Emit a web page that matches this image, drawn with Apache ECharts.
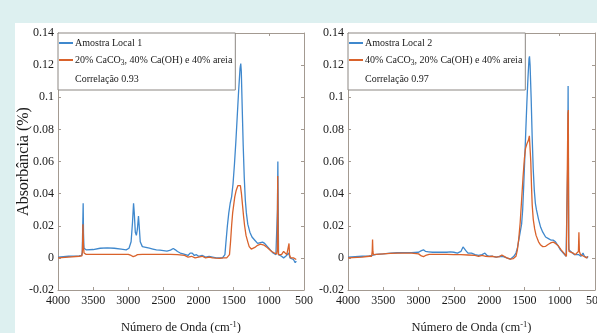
<!DOCTYPE html>
<html>
<head>
<meta charset="utf-8">
<script src="https://cdn.jsdelivr.net/npm/echarts@6/dist/echarts.min.js"></script>
<style>
  html, body { margin: 0; padding: 0; }
  #wrap { position: relative; width: 597px; height: 333px; background: #ddf0f0; overflow: hidden; }
  #paper { position: absolute; left: 15px; top: 23px; right: 0; bottom: 0; background: #fff; }
  #chart { position: absolute; left: 0; top: 0; width: 597px; height: 333px; }
</style>
</head>
<body>
<div id="wrap"><div id="paper"></div><div id="chart"></div></div>
<script>
// painel 1 - Amostra Local 1 (azul) e mistura 20/40/40 (laranja)
const wnBlue1 = [4000, 3850, 3700, 3665, 3655, 3648, 3642, 3637, 3630, 3600, 3500, 3400, 3300, 3200, 3100, 3030, 2990, 2960, 2940, 2925, 2915, 2900, 2885, 2870, 2855, 2845, 2830, 2800, 2750, 2700, 2650, 2600, 2550, 2500, 2450, 2400, 2360, 2330, 2300, 2260, 2220, 2200, 2150, 2120, 2090, 2060, 2030, 2000, 1950, 1900, 1850, 1800, 1750, 1700, 1660, 1640, 1625, 1610, 1590, 1570, 1550, 1530, 1510, 1490, 1470, 1450, 1430, 1410, 1400, 1392, 1380, 1365, 1350, 1335, 1320, 1300, 1270, 1240, 1200, 1160, 1120, 1090, 1060, 1020, 980, 940, 900, 885, 878, 872, 867, 862, 850, 820, 790, 760, 740, 715, 700, 680, 650, 625, 610, 600];
const absBlue1 = [0.0005, 0.001, 0.0012, 0.0015, 0.003, 0.02, 0.034, 0.015, 0.006, 0.005, 0.0052, 0.006, 0.0062, 0.006, 0.0055, 0.005, 0.006, 0.01, 0.022, 0.034, 0.028, 0.016, 0.014, 0.018, 0.026, 0.02, 0.01, 0.007, 0.0065, 0.006, 0.0055, 0.005, 0.0048, 0.0045, 0.0042, 0.0048, 0.0058, 0.005, 0.004, 0.003, 0.0025, 0.002, 0.0015, 0.003, 0.003, 0.0015, 0.002, 0.001, 0.0015, 0.0005, 0.001, 0.0005, 0.0, 0.0, 0.0, 0.0005, 0.002, 0.01, 0.02, 0.028, 0.034, 0.038, 0.046, 0.058, 0.072, 0.088, 0.104, 0.118, 0.121, 0.116, 0.095, 0.07, 0.05, 0.036, 0.028, 0.021, 0.016, 0.013, 0.011, 0.009, 0.0095, 0.0098, 0.009, 0.007, 0.005, 0.003, 0.002, 0.002, 0.03, 0.06, 0.03, 0.002, 0.0015, 0.001, 0.0, 0.001, 0.0, 0.003, 0.0, -0.001, -0.001, -0.003, -0.002, -0.002];
const wnOrange1 = [4000, 3850, 3700, 3660, 3652, 3645, 3638, 3630, 3600, 3400, 3200, 3000, 2960, 2930, 2900, 2870, 2800, 2600, 2400, 2300, 2200, 2150, 2100, 2050, 2000, 1950, 1900, 1850, 1800, 1750, 1700, 1650, 1600, 1580, 1560, 1545, 1530, 1515, 1500, 1485, 1465, 1440, 1420, 1405, 1390, 1375, 1360, 1345, 1325, 1300, 1280, 1250, 1230, 1200, 1160, 1120, 1100, 1070, 1040, 1000, 960, 920, 890, 880, 874, 869, 864, 850, 820, 790, 765, 745, 725, 713, 706, 690, 670, 650, 630, 610, 600];
const absOrange1 = [0.0, 0.0005, 0.001, 0.0012, 0.005, 0.021, 0.008, 0.003, 0.0022, 0.0022, 0.0022, 0.0022, 0.0015, 0.0008, 0.0012, 0.002, 0.0022, 0.0022, 0.0022, 0.002, 0.0015, 0.0005, 0.001, 0.0, 0.0005, 0.001, 0.0, 0.0005, 0.0, -0.0002, -0.0003, 0.0, 0.0, 0.0, 0.002, 0.01, 0.02, 0.028, 0.033, 0.038, 0.042, 0.045, 0.046, 0.045, 0.04, 0.033, 0.026, 0.02, 0.014, 0.01, 0.007, 0.0055, 0.0055, 0.0065, 0.0078, 0.0085, 0.0085, 0.008, 0.007, 0.0055, 0.004, 0.003, 0.0025, 0.005, 0.051, 0.02, 0.002, 0.001, 0.002, 0.004, 0.003, 0.002, 0.003, 0.009, 0.002, 0.0, -0.0005, 0.0, -0.001, -0.001, -0.001];

// painel 2 - Amostra Local 2 (azul) e mistura 40/20/40 (laranja)
const wnBlue2 = [4000, 3800, 3700, 3660, 3640, 3600, 3500, 3400, 3300, 3200, 3100, 3000, 2960, 2930, 2900, 2860, 2800, 2700, 2600, 2550, 2500, 2450, 2400, 2370, 2350, 2330, 2300, 2250, 2200, 2150, 2100, 2060, 2030, 2000, 1950, 1900, 1850, 1800, 1750, 1700, 1680, 1650, 1620, 1600, 1580, 1560, 1540, 1525, 1510, 1495, 1480, 1465, 1450, 1435, 1428, 1420, 1405, 1390, 1375, 1360, 1345, 1330, 1300, 1270, 1240, 1200, 1160, 1120, 1090, 1060, 1030, 990, 950, 910, 892, 886, 881, 876, 871, 850, 820, 790, 760, 745, 730, 700, 670, 650, 630, 610, 600];
const absBlue2 = [0.0005, 0.001, 0.0012, 0.0015, 0.002, 0.0022, 0.0025, 0.003, 0.0032, 0.0033, 0.0033, 0.0035, 0.0045, 0.005, 0.004, 0.0038, 0.0035, 0.0035, 0.0035, 0.0038, 0.0035, 0.003, 0.004, 0.0068, 0.0065, 0.0045, 0.003, 0.003, 0.002, 0.0015, 0.002, 0.003, 0.0015, 0.001, 0.001, 0.0005, 0.001, 0.0008, 0.0, -0.0008, 0.0, 0.001, 0.003, 0.006, 0.011, 0.016, 0.021, 0.03, 0.045, 0.062, 0.08, 0.097, 0.112, 0.124, 0.1255, 0.12, 0.1, 0.075, 0.055, 0.042, 0.034, 0.03, 0.024, 0.019, 0.016, 0.013, 0.012, 0.011, 0.011, 0.01, 0.008, 0.005, 0.003, 0.001, 0.002, 0.06, 0.107, 0.05, 0.005, 0.004, 0.003, 0.002, 0.002, 0.003, 0.002, 0.001, 0.003, 0.001, 0.002, 0.0, 0.001];
const wnOrange2 = [4000, 3800, 3700, 3665, 3657, 3652, 3647, 3640, 3600, 3500, 3400, 3300, 3200, 3100, 3000, 2960, 2930, 2900, 2850, 2700, 2600, 2500, 2400, 2300, 2200, 2150, 2100, 2050, 2000, 1950, 1900, 1850, 1820, 1800, 1750, 1700, 1660, 1640, 1620, 1600, 1580, 1560, 1540, 1520, 1500, 1485, 1465, 1445, 1430, 1420, 1410, 1400, 1390, 1375, 1355, 1335, 1300, 1270, 1240, 1200, 1160, 1120, 1090, 1060, 1020, 980, 940, 905, 890, 884, 878, 873, 868, 840, 810, 780, 755, 735, 728, 721, 705, 690, 660, 640, 620, 605];
const absOrange2 = [0.0, 0.0005, 0.001, 0.001, 0.004, 0.0115, 0.004, 0.002, 0.0022, 0.0025, 0.0028, 0.003, 0.003, 0.003, 0.0025, 0.0012, 0.0008, 0.0015, 0.0022, 0.0022, 0.0022, 0.002, 0.002, 0.0018, 0.0015, 0.001, 0.0015, 0.001, 0.0008, 0.001, 0.0005, 0.0008, 0.0018, 0.0008, 0.0, -0.0008, -0.0005, 0.0, 0.001, 0.005, 0.012, 0.022, 0.036, 0.05, 0.062, 0.068, 0.071, 0.073, 0.076, 0.075, 0.06, 0.045, 0.033, 0.024, 0.018, 0.014, 0.01, 0.008, 0.007, 0.0072, 0.0085, 0.0095, 0.0098, 0.009, 0.0075, 0.005, 0.003, 0.001, 0.002, 0.09, 0.092, 0.01, 0.004, 0.004, 0.003, 0.002, 0.002, 0.004, 0.016, 0.004, 0.002, 0.002, 0.001, 0.002, 0.0, 0.001];

const nomes1 = ['Amostra Local 1', '20% CaCO3, 40% Ca(OH) e 40% areia', 'Correlação 0.93'];
const nomes2 = ['Amostra Local 2', '40% CaCO3, 20% Ca(OH) e 40% areia', 'Correlação 0.97'];
const xTicks = [500, 4000, 500];     // min, max, intervalo
const yTicks = [-0.02, 0.14, 0.02];

const azul = '#3f88cd';
const laranja = '#d9622b';
const caixa = '#a39a91';
const fonte = 'Liberation Serif';

function pares(xs, ys) {
  return xs.map((x, i) => [x, ys[i]]);
}

function eixoX(grid, pos, mostra, nome) {
  return {
    type: 'value', gridIndex: grid, position: pos,
    min: xTicks[0], max: xTicks[1], interval: xTicks[2], inverse: true,
    axisLine: { show: true, onZero: false, lineStyle: { color: caixa, width: 1 } },
    axisTick: { show: true, inside: true, length: 3, lineStyle: { color: caixa } },
    axisLabel: {
      show: mostra, color: '#1a1a1a', fontFamily: fonte, fontSize: 12, margin: 5,
      formatter: v => String(v)
    },
    splitLine: { show: false },
    name: nome, nameLocation: 'middle', nameGap: 30, nameMoveOverlap: false,
    nameTextStyle: {
      color: '#1a1a1a', fontFamily: fonte, fontSize: 12.5,
      rich: { sup: { fontFamily: fonte, fontSize: 8.5, color: '#1a1a1a', padding: [0, 0, 7, 0] } }
    }
  };
}

function eixoY(grid, pos, mostra, nome) {
  return {
    type: 'value', gridIndex: grid, position: pos,
    min: yTicks[0], max: yTicks[1], interval: yTicks[2],
    axisLine: { show: true, onZero: false, lineStyle: { color: caixa, width: 1 } },
    axisTick: { show: true, inside: true, length: 3, lineStyle: { color: caixa } },
    axisLabel: {
      show: mostra, color: '#1a1a1a', fontFamily: fonte, fontSize: 12, margin: 4,
      formatter: v => String(parseFloat(v.toFixed(2)))
    },
    splitLine: { show: false },
    name: nome, nameLocation: 'middle', nameGap: 26, nameMoveOverlap: false,
    nameTextStyle: { color: '#1a1a1a', fontFamily: fonte, fontSize: 16 }
  };
}

function linha(nome, dados, cor, xi, yi) {
  return {
    type: 'line', name: nome, data: dados, xAxisIndex: xi, yAxisIndex: yi,
    showSymbol: false, symbol: 'none', smooth: false, animation: false,
    color: cor, lineStyle: { color: cor, width: 1.3 }
  };
}

function legenda(nomes, esq) {
  return {
    left: esq, top: 33, orient: 'vertical', selectedMode: false,
    data: nomes.map(n => ({ name: n })),
    icon: 'rect', itemWidth: 14, itemHeight: 2, itemGap: 7,
    backgroundColor: '#fff', borderColor: '#8c8782', borderWidth: 1, borderRadius: 0,
    padding: [5, 3, 6, 1],
    formatter: n => n.replace('CaCO3', 'CaCO{sub|3}'),
    textStyle: {
      color: '#1a1a1a', fontFamily: fonte, fontSize: 10, padding: [0, 0, 0, -3],
      rich: { sub: { fontFamily: fonte, fontSize: 7.5, color: '#1a1a1a', padding: [6, 0, 0, 0] } }
    }
  };
}

const chart = echarts.init(document.getElementById('chart'));
const tituloX = 'Número de Onda (cm{sup|-1})';

chart.setOption({
  animation: false,
  grid: [
    { left: 58, top: 33, width: 246, height: 257, outerBoundsMode: 'none', containLabel: false },
    { left: 348, top: 33, width: 247, height: 257, outerBoundsMode: 'none', containLabel: false }
  ],
  xAxis: [
    eixoX(0, 'bottom', true, tituloX),
    eixoX(0, 'top', false, ''),
    eixoX(1, 'bottom', true, tituloX),
    eixoX(1, 'top', false, '')
  ],
  yAxis: [
    eixoY(0, 'left', true, 'Absorbância (%)'),
    eixoY(0, 'right', false, ''),
    eixoY(1, 'left', true, ''),
    eixoY(1, 'right', false, '')
  ],
  legend: [legenda(nomes1, 58), legenda(nomes2, 348)],
  series: [
    linha(nomes1[0], pares(wnBlue1, absBlue1), azul, 0, 0),
    linha(nomes1[1], pares(wnOrange1, absOrange1), laranja, 0, 0),
    linha(nomes1[2], [], 'rgba(0,0,0,0)', 0, 0),
    linha(nomes2[0], pares(wnBlue2, absBlue2), azul, 2, 2),
    linha(nomes2[1], pares(wnOrange2, absOrange2), laranja, 2, 2),
    linha(nomes2[2], [], 'rgba(0,0,0,0)', 2, 2)
  ]
});
</script>
</body>
</html>
